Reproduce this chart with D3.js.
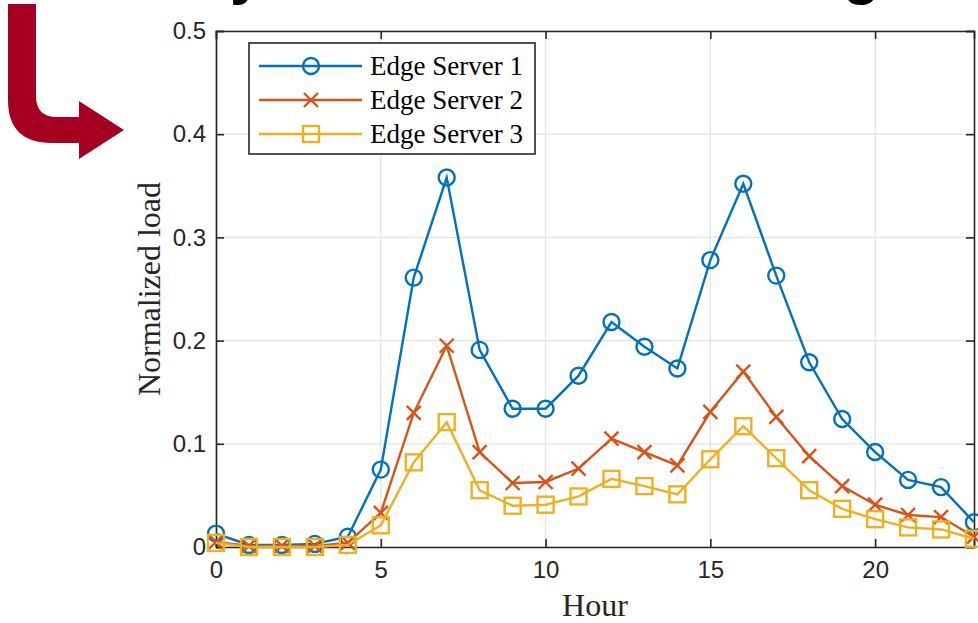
<!DOCTYPE html>
<html>
<head>
<meta charset="utf-8">
<script src="https://cdn.jsdelivr.net/npm/d3@7"></script>
<style>
  html, body { margin: 0; padding: 0; background: #fff; overflow: hidden; }
  svg { display: block; }
</style>
</head>
<body>
<svg id="chart" width="978" height="623"></svg>
<script>
// ---- data ----
const hours = d3.range(0, 24);
const server1 = [0.013, 0.002, 0.002, 0.003, 0.010, 0.075, 0.261, 0.358, 0.191, 0.134, 0.134, 0.166,
                 0.218, 0.194, 0.173, 0.278, 0.352, 0.263, 0.179, 0.124, 0.092, 0.065, 0.058, 0.024];
const server2 = [0.005, 0.001, 0.001, 0.001, 0.004, 0.033, 0.130, 0.195, 0.092, 0.062, 0.063, 0.076,
                 0.105, 0.092, 0.079, 0.131, 0.170, 0.126, 0.088, 0.059, 0.041, 0.031, 0.029, 0.010];
const server3 = [0.004, 0.000, 0.000, 0.000, 0.002, 0.021, 0.082, 0.121, 0.055, 0.040, 0.041, 0.049,
                 0.066, 0.059, 0.051, 0.085, 0.117, 0.086, 0.055, 0.037, 0.027, 0.019, 0.017, 0.008];
const seriesNames = ["Edge Server 1", "Edge Server 2", "Edge Server 3"];
const xTicks = [0, 5, 10, 15, 20];
const yTicks = [0, 0.1, 0.2, 0.3, 0.4, 0.5];
const xLabel = "Hour";
const yLabel = "Normalized load";

// ---- layout ----
const svg = d3.select("#chart");
const L = 216, R = 974, T = 31, B = 547;
const x = d3.scaleLinear().domain([0, 23]).range([L, R]);
const y = d3.scaleLinear().domain([0, 0.5]).range([B, T]);

const colors = ["#0072BD", "#D95319", "#EDB120"];
const markers = ["circle", "cross", "square"];
const series = [server1, server2, server3];

// decorative arrow (slide element)
svg.append("path")
  .attr("d", "M8,4 L36,4 L36,96 Q36,117 57,117 L79,117 L79,101 L124,130 L79,159 L79,143 L52,143 Q8,143 8,100 Z")
  .attr("fill", "#a50021");

// partially visible slide title letters (cut off by the top edge, as in the source)
svg.append("text").attr("x", 230).attr("y", -7).attr("font-family", "Liberation Sans, Arial, sans-serif")
  .attr("font-weight", "bold").attr("font-size", 60).attr("fill", "#000").text("y");
svg.append("text").attr("x", 843).attr("y", -7).attr("font-family", "Liberation Sans, Arial, sans-serif")
  .attr("font-weight", "bold").attr("font-size", 60).attr("fill", "#000").text("g");

// grid
const grid = svg.append("g").attr("stroke", "#e3e3e3").attr("stroke-width", 1.2);
xTicks.forEach(t => grid.append("line").attr("x1", x(t)).attr("x2", x(t)).attr("y1", T).attr("y2", B));
yTicks.forEach(t => grid.append("line").attr("x1", L).attr("x2", R).attr("y1", y(t)).attr("y2", y(t)));

// axes using d3 axes, ticks inward
const tickFont = "Liberation Sans, Arial, Helvetica, sans-serif";
const xAxis = svg.append("g").attr("transform", `translate(0,${B})`)
  .call(d3.axisBottom(x).tickValues(xTicks).tickSize(-8).tickPadding(14).tickFormat(d3.format("d")));
const yAxis = svg.append("g").attr("transform", `translate(${L},0)`)
  .call(d3.axisLeft(y).tickValues(yTicks).tickSize(-8).tickPadding(10).tickFormat(d => d === 0 ? "0" : d3.format(".1f")(d)));
const xTop = svg.append("g").attr("transform", `translate(0,${T})`)
  .call(d3.axisTop(x).tickValues(xTicks).tickSize(-8).tickFormat(""));
const yRight = svg.append("g").attr("transform", `translate(${R},0)`)
  .call(d3.axisRight(y).tickValues(yTicks).tickSize(-8).tickFormat(""));
[xAxis, yAxis, xTop, yRight].forEach(g => {
  g.select(".domain").attr("stroke", "#262626").attr("stroke-width", 1.6);
  g.selectAll(".tick line").attr("stroke", "#262626").attr("stroke-width", 1.6);
  g.selectAll("text").attr("fill", "#262626").attr("font-family", tickFont).attr("font-size", 24);
});
xAxis.selectAll("text").attr("dy", "0.71em");

// axis labels
svg.append("text").attr("x", (L + R) / 2).attr("y", 616).attr("text-anchor", "middle")
  .attr("font-family", "Liberation Serif, Times New Roman, serif").attr("font-size", 32)
  .attr("fill", "#262626").text(xLabel);
svg.append("text").attr("transform", `translate(160,${(T + B) / 2}) rotate(-90)`)
  .attr("text-anchor", "middle")
  .attr("font-family", "Liberation Serif, Times New Roman, serif").attr("font-size", 32)
  .attr("fill", "#262626").text(yLabel);

// marker drawing
function drawMarker(g, type, cx, cy, color) {
  if (type === "circle") {
    g.append("circle").attr("cx", cx).attr("cy", cy).attr("r", 8)
      .attr("fill", "none").attr("stroke", color).attr("stroke-width", 2.4);
  } else if (type === "cross") {
    const s = 7;
    g.append("path").attr("d", `M${cx - s},${cy - s}L${cx + s},${cy + s}M${cx - s},${cy + s}L${cx + s},${cy - s}`)
      .attr("stroke", color).attr("stroke-width", 2.4).attr("fill", "none");
  } else {
    const s = 8;
    g.append("rect").attr("x", cx - s).attr("y", cy - s).attr("width", 2 * s).attr("height", 2 * s)
      .attr("fill", "none").attr("stroke", color).attr("stroke-width", 2.4);
  }
}

// lines
const line = d3.line().x((d, i) => x(hours[i])).y(d => y(d));
series.forEach((vals, k) => {
  const g = svg.append("g");
  g.append("path").datum(vals).attr("d", line).attr("fill", "none")
    .attr("stroke", colors[k]).attr("stroke-width", 2.4);
  vals.forEach((v, i) => drawMarker(g, markers[k], x(hours[i]), y(v), colors[k]));
});

// legend
const lg = svg.append("g");
lg.append("rect").attr("x", 249).attr("y", 43).attr("width", 286).attr("height", 111)
  .attr("fill", "#fff").attr("stroke", "#262626").attr("stroke-width", 1.6);
seriesNames.forEach((name, k) => {
  const ly = 66 + k * 34;
  lg.append("line").attr("x1", 259).attr("x2", 362).attr("y1", ly).attr("y2", ly)
    .attr("stroke", colors[k]).attr("stroke-width", 2.4);
  drawMarker(lg, markers[k], 311, ly, colors[k]);
  lg.append("text").attr("x", 370).attr("y", ly + 9)
    .attr("font-family", "Liberation Serif, Times New Roman, serif").attr("font-size", 27)
    .attr("fill", "#000").text(name);
});
</script>
</body>
</html>
